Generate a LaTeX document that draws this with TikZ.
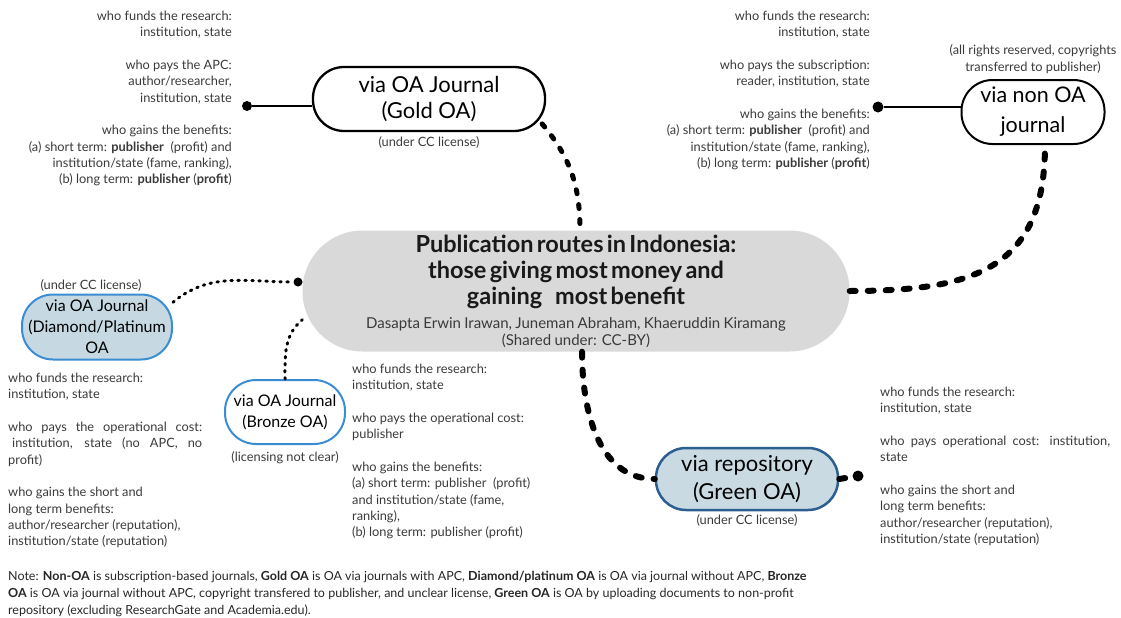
\documentclass[tikz,border=0pt]{standalone}
\usepackage{fontspec}
\setmainfont{Lato}
\usetikzlibrary{positioning}
\definecolor{hubgray}{HTML}{D9D9D9}
\definecolor{textgray}{HTML}{3A3A3A}
\definecolor{oablue}{HTML}{3A8DD2}
\definecolor{diafill}{HTML}{C6D9E3}
\definecolor{grnfill}{HTML}{C9DAE2}
\definecolor{grnedge}{HTML}{2C5E90}
\newcommand{\Sbody}{\fontsize{12.8}{16.3}\selectfont}
\newcommand{\Sgap}{16.3pt}
\newcommand{\Scap}{\fontsize{12.8}{17}\selectfont}
\newcommand{\Stitle}{\fontsize{23.5}{26}\selectfont\bfseries}
\newcommand{\Sauth}{\fontsize{15}{17}\selectfont}
\newcommand{\Snote}{\fontsize{12.5}{17}\selectfont}
\begin{document}
\begin{tikzpicture}[x=1pt,y=1pt,
  every node/.style={text=textgray},
  info/.style={inner sep=0pt,font=\Sbody},
  caption/.style={inner sep=0pt,font=\Scap,align=center},
  route/.style={rectangle,draw=black,line width=2.3pt,fill=white,align=center,inner sep=0pt,text=black},
  dot/.style={circle,fill=black,draw=none,inner sep=0pt,minimum size=#1},
  dot/.default=10pt,
  bigdash/.style={line width=6pt,line cap=round,dash pattern=on 6pt off 12pt},
  bigdots/.style={line width=5pt,line cap=round,dash pattern=on 4pt off 11pt},
  smalldots/.style={line width=3pt,line cap=round,dash pattern=on 1.5pt off 5.5pt}]
\useasboundingbox (0,0) rectangle (1121,-618);
% \draw[help lines,step=50] (0,0) grid (1121,-618);
\node (hub) [rectangle,rounded corners=60pt,fill=hubgray,minimum width=547pt,minimum height=121pt,text width=540pt,align=center,inner sep=0pt,text=black!90] at (576,-291)
  {{\Stitle Publication routes in Indonesia:\\ those giving most money and\\ gaining\hspace{0.55em}most benefit\par}\vspace{7pt}
   {\Sauth\color{textgray} Dasapta Erwin Irawan, Juneman Abraham, Khaeruddin Kiramang\\ (Shared under: CC-BY)\par}};
{\node (gold) [route,rounded corners=31pt,minimum width=232pt,minimum height=64pt,font=\fontsize{22}{26}\selectfont] at (429,-99) {via OA Journal\\ (Gold OA)};
\node (goldcap) [caption,below=4pt of gold] {(under CC license)};
\node (gdot) [dot] at (247,-106) {};}
{\node (nonoa) [route,line width=2pt,rounded corners=31pt,minimum width=143pt,minimum height=64pt,font=\fontsize{21.5}{30}\selectfont] at (1033,-112) {via non OA\\ journal};
\node (nonoacap) [caption,above=5pt of nonoa] {(all rights reserved, copyrights\\ transferred to publisher)};
\node (ndot) [dot=11pt] at (878,-107) {};}
{\node (dia) [route,draw=oablue,fill=diafill,line width=2pt,rounded corners=31pt,minimum width=150pt,minimum height=65pt,font=\fontsize{16}{21}\selectfont] at (97,-327) {via OA Journal\\ (Diamond/Platinum\\ OA};
\node (diacap) [caption,above=2pt of dia,xshift=-6pt] {(under CC license)};
\node (dl) [dot=9pt] at (298,-282) {};}
{\node (bro) [route,draw=oablue,line width=2pt,rounded corners=31pt,minimum width=120pt,minimum height=64pt,font=\fontsize{16}{21}\selectfont] at (285,-412) {via OA Journal\\ (Bronze OA)};
\node (brocap) [caption,below=6pt of bro] {(licensing not clear)};}
{\node (grn) [route,draw=grnedge,fill=grnfill,line width=2.5pt,rounded corners=30pt,minimum width=182pt,minimum height=62pt,font=\fontsize{22}{28}\selectfont] at (747,-479) {via repository\\ (Green OA)};
\node (grncap) [caption,below=3pt of grn] {(under CC license)};
\node (rdot) [dot=11pt] at (858,-476) {};}
%
{\node (goldtxt) [info,align=right,anchor=north east] at (232,-11)
  {who funds the research:\\ institution, state\\[\Sgap]
   who pays the APC:\\ author/researcher,\\ institution, state\\[\Sgap]
   who gains the benefits:\\ (a) short term: \textbf{publisher}\ \ (profit) and\\ institution/state (fame, ranking),\\ (b) long term: \textbf{publisher} (\textbf{profit})};}
{\node (nonoatxt) [info,align=right,anchor=north east] at (870,-11)
  {who funds the research:\\ institution, state\\[\Sgap]
   who pays the subscription:\\ reader, institution, state\\[\Sgap]
   who gains the benefits:\\ (a) short term: \textbf{publisher}\ \ (profit) and\\ institution/state (fame, ranking),\\ (b) long term: \textbf{publisher} (\textbf{profit})};}
{\node (diatxt) [info,align=left,anchor=north west] at (8,-373)
  {who funds the research:\\ institution, state\\[\Sgap]
   \makebox[194pt][s]{who pays the operational cost:}\\ \makebox[194pt][s]{\hspace*{4pt}institution, state (no APC, no}\\ profit)\\[\Sgap]
   who gains the short and\\ long term benefits:\\ author/researcher (reputation),\\ institution/state (reputation)};}
{\node (brotxt) [info,align=left,anchor=north west] at (352,-364)
  {who funds the research:\\ institution, state\\[\Sgap]
   who pays the operational cost:\\ publisher\\[\Sgap]
   who gains the benefits:\\ (a) short term: publisher\ \ (profit)\\ and institution/state (fame,\\ ranking),\\ (b) long term: publisher (profit)};}
{\node (grntxt) [info,align=left,anchor=north west] at (880,-387)
  {who funds the research:\\ institution, state\\[\Sgap]
   \makebox[230pt][s]{who pays operational cost: institution,}\\ state\\[\Sgap]
   who gains the short and\\ long term benefits:\\ author/researcher (reputation),\\ institution/state (reputation)};}
\node (note) [inner sep=0pt,anchor=north west,align=left,font=\Snote,text=black!85] at (8,-571)
  {Note: \textbf{Non-OA} is subscription-based journals, \textbf{Gold OA} is OA via journals with APC, \textbf{Diamond/platinum OA} is OA via journal without APC, \textbf{Bronze}\\
   \textbf{OA} is OA via journal without APC, copyright transfered to publisher, and unclear license, \textbf{Green OA} is OA by uploading documents to non-profit\\
   repository (excluding ResearchGate and Academia.edu).};
%
{\path[-,line width=1.6pt](gdot) edge (gdot -| gold.west);}
{\path[-,line width=1.6pt](ndot) edge (ndot -| nonoa.west);}
{\path[bigdots]([xshift=-4pt]gold.-12) edge[out=-50,in=90] ([xshift=4pt]hub.north);}
{\path[bigdash](hub.east) edge[out=0,in=-90,looseness=1.3] ([xshift=12pt]nonoa.south);}
{\path[bigdash]([xshift=6pt]hub.south) edge[out=-90,in=180] (grn.west);
\path[bigdash](grn.east) edge (rdot);}
{\path[smalldots](dia.18) edge[out=40,in=180] (dl);}
{\path[smalldots](bro.north) edge[out=90,in=-140] (hub.186);}
\end{tikzpicture}
\end{document}
